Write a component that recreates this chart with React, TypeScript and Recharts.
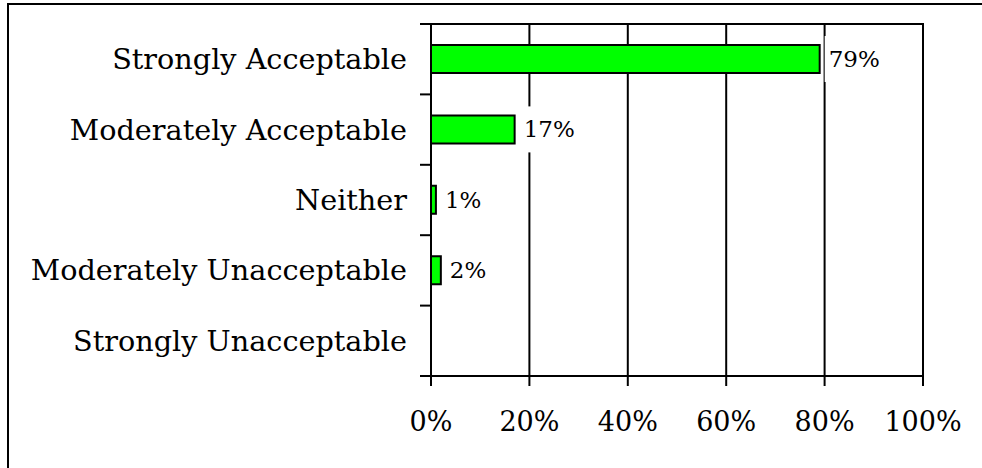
import { Bar, BarChart, CartesianGrid, LabelList, XAxis, YAxis } from 'recharts';

const categories = [
  'Strongly Acceptable',
  'Moderately Acceptable',
  'Neither',
  'Moderately Unacceptable',
  'Strongly Unacceptable',
];
const shares = [79, 17, 1, 2, 0];
const xTicks = [0, 20, 40, 60, 80, 100];

const data = categories.map((name, i) => ({ name, share: shares[i] }));

const FONT = '"DejaVu Serif", serif';
const CHART_W = 982;
const CHART_H = 468;
const MARGIN = { top: 24, right: 59, bottom: 32, left: 11 };
const Y_AXIS_W = 420;
const PLOT_LEFT = MARGIN.left + Y_AXIS_W;
const PLOT_W = CHART_W - PLOT_LEFT - MARGIN.right;
const Y_TICK_SIZE = 11;
const Y_TICK_MARGIN = 13;

// category label plus tick marks on the band boundaries
function CategoryTick(props: any) {
  const { x, y, payload } = props;
  const half = payload.offset ?? 0;
  const isLast = payload.value === categories[categories.length - 1];
  const x1 = x + Y_TICK_MARGIN;
  const x2 = x1 + Y_TICK_SIZE;
  return (
    <g>
      <line x1={x1} x2={x2} y1={y - half} y2={y - half} stroke="#000" strokeWidth={2} />
      {isLast && (
        <line x1={x1} x2={x2} y1={y + half} y2={y + half} stroke="#000" strokeWidth={2} />
      )}
      <text x={x} y={y} dy="0.35em" textAnchor="end" fontFamily={FONT} fontSize={28.7} fill="#000">
        {payload.value}
      </text>
    </g>
  );
}

function ShareLabel(props: any) {
  const { x, y, width, height, value } = props;
  if (!value) return null;
  const text = `${value}%`;
  const fs = 23;
  const w = (text.length - 1) * 0.636 * fs + 0.95 * fs + 8;
  const left = x + width + 5;
  const cy = y + height / 2;
  return (
    <g>
      <rect x={left} y={cy - 23} width={w} height={46} fill="#fff" />
      <text x={left + 4} y={cy} dy="0.35em" fontFamily={FONT} fontSize={fs} fill="#000">
        {text}
      </text>
    </g>
  );
}

export default function App() {
  return (
    <div
      style={{
        position: 'absolute',
        left: 0,
        top: 0,
        width: CHART_W,
        height: CHART_H,
        background: '#fff',
        overflow: 'hidden',
      }}
    >
      <div
        style={{
          position: 'absolute',
          left: 7,
          top: 3,
          width: 980,
          height: 470,
          borderTop: '2px solid #000',
          borderLeft: '2px solid #000',
        }}
      />
      <div style={{ position: 'absolute', left: 0, top: 0 }}>
        <BarChart width={CHART_W} height={CHART_H} data={data} layout="vertical" margin={MARGIN}>
          <CartesianGrid stroke="#000" strokeWidth={2} horizontal={false} />
          <XAxis
            type="number"
            domain={[0, 100]}
            ticks={xTicks}
            height={60}
            tickSize={10}
            tickMargin={26}
            tickFormatter={(v) => `${v}%`}
            axisLine={{ stroke: '#000', strokeWidth: 2 }}
            tickLine={{ stroke: '#000', strokeWidth: 2 }}
            tick={{ fill: '#000', fontFamily: FONT, fontSize: 27 }}
          />
          <YAxis
            type="category"
            dataKey="name"
            width={Y_AXIS_W}
            tickSize={Y_TICK_SIZE}
            tickMargin={Y_TICK_MARGIN}
            tickLine={false}
            axisLine={{ stroke: '#000', strokeWidth: 2 }}
            tick={<CategoryTick />}
            interval={0}
          />
          <Bar
            dataKey="share"
            fill="#00ff00"
            stroke="#000"
            strokeWidth={2}
            barSize={28}
            isAnimationActive={false}
          >
            <LabelList dataKey="share" content={<ShareLabel />} />
          </Bar>
        </BarChart>
      </div>
      {/* top edge of the plot box */}
      <div
        style={{
          position: 'absolute',
          left: PLOT_LEFT,
          top: MARGIN.top - 1,
          width: PLOT_W + 1,
          height: 0,
          borderTop: '2px solid #000',
        }}
      />
    </div>
  );
}
